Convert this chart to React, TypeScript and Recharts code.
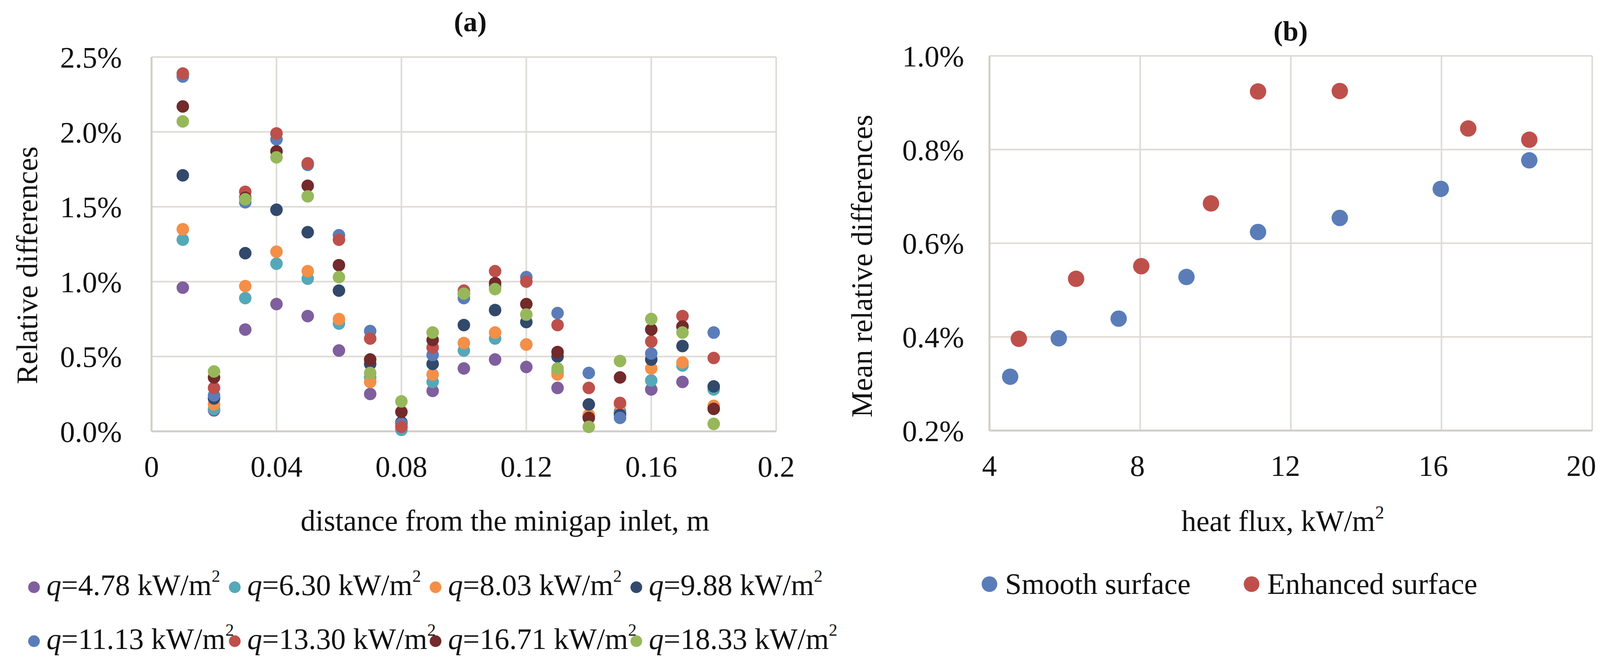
import React from 'react';
import { ScatterChart, Scatter, XAxis, YAxis, CartesianGrid, Legend } from 'recharts';

// ---------- Panel (a) data ----------
const distances = [0.01, 0.02, 0.03, 0.04, 0.05, 0.06, 0.07, 0.08, 0.09, 0.1, 0.11, 0.12, 0.13, 0.14, 0.15, 0.16, 0.17, 0.18];
const qLabels = ['4.78', '6.30', '8.03', '9.88', '11.13', '13.30', '16.71', '18.33'];
const seriesColors = ['#7F5F9E', '#55A8B8', '#F48F48', '#33496B', '#5A7DB9', '#BE504C', '#722A2A', '#96B85A'];

const q478 = [0.96, 0.14, 0.68, 0.85, 0.77, 0.54, 0.25, 0.03, 0.27, 0.42, 0.48, 0.43, 0.29, 0.10, 0.13, 0.28, 0.33, 0.16];
const q630 = [1.28, 0.15, 0.89, 1.12, 1.02, 0.72, 0.36, 0.01, 0.33, 0.54, 0.62, 0.58, 0.40, 0.10, 0.12, 0.34, 0.44, 0.28];
const q803 = [1.35, 0.18, 0.97, 1.20, 1.07, 0.75, 0.33, 0.05, 0.38, 0.59, 0.66, 0.58, 0.38, 0.11, 0.18, 0.42, 0.46, 0.17];
const q988 = [1.71, 0.22, 1.19, 1.48, 1.33, 0.94, 0.45, 0.06, 0.45, 0.71, 0.81, 0.73, 0.50, 0.18, 0.11, 0.48, 0.57, 0.30];
const q1113 = [2.37, 0.24, 1.53, 1.95, 1.78, 1.31, 0.67, 0.05, 0.51, 0.89, 0.97, 1.03, 0.79, 0.39, 0.09, 0.52, 0.70, 0.66];
const q1330 = [2.39, 0.29, 1.60, 1.99, 1.79, 1.28, 0.62, 0.03, 0.56, 0.94, 1.07, 1.00, 0.71, 0.29, 0.19, 0.60, 0.77, 0.49];
const q1671 = [2.17, 0.36, 1.56, 1.87, 1.64, 1.11, 0.48, 0.13, 0.61, 0.92, 0.99, 0.85, 0.53, 0.09, 0.36, 0.68, 0.70, 0.15];
const q1833 = [2.07, 0.40, 1.55, 1.83, 1.57, 1.03, 0.39, 0.20, 0.66, 0.92, 0.95, 0.78, 0.42, 0.03, 0.47, 0.75, 0.66, 0.05];
const panelASeries = [q478, q630, q803, q988, q1113, q1330, q1671, q1833];

const xTicksA = [0, 0.04, 0.08, 0.12, 0.16, 0.2];
const yTicksA = [0, 0.5, 1, 1.5, 2, 2.5];

// ---------- Panel (b) data ----------
const smoothFlux = [4.55, 5.84, 7.43, 9.23, 11.13, 13.3, 15.98, 18.33];
const smoothMean = [0.315, 0.397, 0.439, 0.528, 0.624, 0.654, 0.716, 0.777];
const enhancedFlux = [4.78, 6.3, 8.03, 9.88, 11.13, 13.3, 16.71, 18.33];
const enhancedMean = [0.396, 0.524, 0.551, 0.685, 0.924, 0.925, 0.845, 0.821];
const surfaceNames = ['Smooth surface', 'Enhanced surface'];
const surfaceColors = ['#5A7DB9', '#BE504C'];

const xTicksB = [4, 8, 12, 16, 20];
const yTicksB = [0.2, 0.4, 0.6, 0.8, 1.0];

// ---------- styling ----------
const FONT = "'Liberation Serif', 'Times New Roman', serif";
const FS = 76;
const GRID = '#DEDAD5';
const AXIS = '#D2CDC7';
const TXT = '#111111';

const tickStyle = { fill: TXT, fontSize: FS, fontFamily: FONT };
const pct = (v: number) => `${v.toFixed(1)}%`;

const dot = (r: number, color: string) => (props: any) => (
  <circle cx={props.cx} cy={props.cy} r={r} fill={color} />
);

// x tick of panel (b): labels drift slightly left towards the right end, as in the reference
const FluxTick = (props: any) => {
  const { x, y, payload } = props;
  const v = payload.value as number;
  const shift = -((v - 4) / 16) * 28;
  return (
    <text x={x + shift} y={y} dy={FS * 0.71} textAnchor="middle" fontSize={FS} fontFamily={FONT} fill={TXT}>
      {String(v)}
    </text>
  );
};

const LegendA = (props: any) => {
  const payload = props.payload || [];
  return (
    <div style={{ position: 'relative', width: 2100, height: 0, fontFamily: FONT, fontSize: FS, color: TXT }}>
      {payload.map((p: any) => {
        const idx = qLabels.indexOf(p.value);
        const col = idx % 4;
        const row = Math.floor(idx / 4);
        const cx = 87 + 514 * col;
        const cy = 1503 + 138 * row;
        const base = 1523 + 138 * row;
        return (
          <React.Fragment key={p.value}>
            <div style={{ position: 'absolute', left: cx - 15, top: cy - 15, width: 30, height: 30, borderRadius: '50%', background: seriesColors[idx] }} />
            <div style={{ position: 'absolute', left: cx + 32, top: base - 64, lineHeight: `${FS}px`, whiteSpace: 'nowrap' }}>
              <i>q</i>={qLabels[idx]} kW/m<span style={{ fontSize: 44, position: 'relative', top: -34 }}>2</span>
            </div>
          </React.Fragment>
        );
      })}
    </div>
  );
};

const LegendB = (props: any) => {
  const payload = props.payload || [];
  return (
    <div style={{ position: 'relative', width: 2017, height: 0, fontFamily: FONT, fontSize: FS, color: TXT }}>
      {payload.map((p: any) => {
        const idx = surfaceNames.indexOf(p.value);
        const cx = 433 + 671 * idx;
        return (
          <React.Fragment key={p.value}>
            <div style={{ position: 'absolute', left: cx - 20, top: 1495 - 20, width: 40, height: 40, borderRadius: '50%', background: surfaceColors[idx] }} />
            <div style={{ position: 'absolute', left: cx + 40, top: 1520 - 64, lineHeight: `${FS}px`, whiteSpace: 'nowrap' }}>
              {surfaceNames[idx]}
            </div>
          </React.Fragment>
        );
      })}
    </div>
  );
};

const ChartA = () => {
  const series = panelASeries.map((vals) => vals.map((v, j) => ({ x: distances[j], y: v })));
  return (
    <ScatterChart width={2100} height={1702} margin={{ top: 146, right: 113, bottom: 498, left: 0 }}>
      <CartesianGrid stroke={GRID} strokeWidth={4} />
      <XAxis
        type="number"
        dataKey="x"
        domain={[0, 0.2]}
        ticks={xTicksA}
        interval={0}
        height={100}
        tickLine={false}
        tickSize={0}
        tickMargin={62}
        axisLine={{ stroke: AXIS, strokeWidth: 5 }}
        tick={tickStyle}
        tickFormatter={(v: number) => String(v)}
        label={() => (
          <text x={1293} y={1358} textAnchor="middle" fontSize={FS} fontFamily={FONT} fill={TXT}>
            distance from the minigap inlet, m
          </text>
        )}
      />
      <YAxis
        type="number"
        dataKey="y"
        domain={[0, 2.5]}
        ticks={yTicksA}
        interval={0}
        width={388}
        tickLine={false}
        tickSize={0}
        tickMargin={76}
        axisLine={{ stroke: AXIS, strokeWidth: 5 }}
        tick={tickStyle}
        tickFormatter={pct}
        label={() => (
          <text x={95} y={679} transform="rotate(-90, 95, 679)" textAnchor="middle" fontSize={FS} fontFamily={FONT} fill={TXT}>
            Relative differences
          </text>
        )}
      />
      <Legend
        layout="horizontal"
        verticalAlign="middle"
        align="center"
        wrapperStyle={{ left: 0, top: 0, width: 2100, height: 0 }}
        content={<LegendA />}
      />
      {series.map((data, i) => (
        <Scatter
          key={qLabels[i]}
          name={qLabels[i]}
          data={data}
          fill={seriesColors[i]}
          isAnimationActive={false}
          shape={dot(16, seriesColors[i])}
        />
      ))}
    </ScatterChart>
  );
};

const ChartB = () => {
  const smooth = smoothFlux.map((x, i) => ({ x, y: smoothMean[i] }));
  const enhanced = enhancedFlux.map((x, i) => ({ x, y: enhancedMean[i] }));
  return (
    <ScatterChart width={2017} height={1702} margin={{ top: 143, right: 41, bottom: 500, left: 0 }}>
      <CartesianGrid stroke={GRID} strokeWidth={4} />
      <XAxis
        type="number"
        dataKey="x"
        domain={[4, 20]}
        ticks={xTicksB}
        interval={0}
        height={100}
        tickLine={false}
        tickSize={0}
        tickMargin={62}
        axisLine={{ stroke: AXIS, strokeWidth: 5 }}
        tick={<FluxTick />}
        label={() => (
          <text x={1184} y={1359} textAnchor="middle" fontSize={FS} fontFamily={FONT} fill={TXT}>
            heat flux, kW/m<tspan fontSize={46} dy={-32}>2</tspan>
          </text>
        )}
      />
      <YAxis
        type="number"
        dataKey="y"
        domain={[0.2, 1.0]}
        ticks={yTicksB}
        interval={0}
        width={433}
        tickLine={false}
        tickSize={0}
        tickMargin={65}
        axisLine={{ stroke: AXIS, strokeWidth: 5 }}
        tick={tickStyle}
        tickFormatter={pct}
        label={() => (
          <text x={132} y={681} transform="rotate(-90, 132, 681)" textAnchor="middle" fontSize={FS} fontFamily={FONT} fill={TXT}>
            Mean relative differences
          </text>
        )}
      />
      <Legend
        layout="horizontal"
        verticalAlign="middle"
        align="center"
        wrapperStyle={{ left: 0, top: 0, width: 2017, height: 0 }}
        content={<LegendB />}
      />
      <Scatter name={surfaceNames[0]} data={smooth} fill={surfaceColors[0]} isAnimationActive={false} shape={dot(21, surfaceColors[0])} />
      <Scatter name={surfaceNames[1]} data={enhanced} fill={surfaceColors[1]} isAnimationActive={false} shape={dot(21, surfaceColors[1])} />
    </ScatterChart>
  );
};

export default function App() {
  return (
    <div style={{ position: 'absolute', left: 0, top: 0, width: 4117, height: 1702, background: '#ffffff', fontFamily: FONT, overflow: 'hidden' }}>
      <div style={{ position: 'absolute', left: 0, top: 0 }}>
        <ChartA />
      </div>
      <div style={{ position: 'absolute', left: 2100, top: 0 }}>
        <ChartB />
      </div>
      <div style={{ position: 'absolute', left: 1104, top: 20, width: 200, textAlign: 'center', fontSize: 72, lineHeight: '72px', fontWeight: 'bold', color: TXT }}>
        (a)
      </div>
      <div style={{ position: 'absolute', left: 3204, top: 44, width: 200, textAlign: 'center', fontSize: 72, lineHeight: '72px', fontWeight: 'bold', color: TXT }}>
        (b)
      </div>
    </div>
  );
}
